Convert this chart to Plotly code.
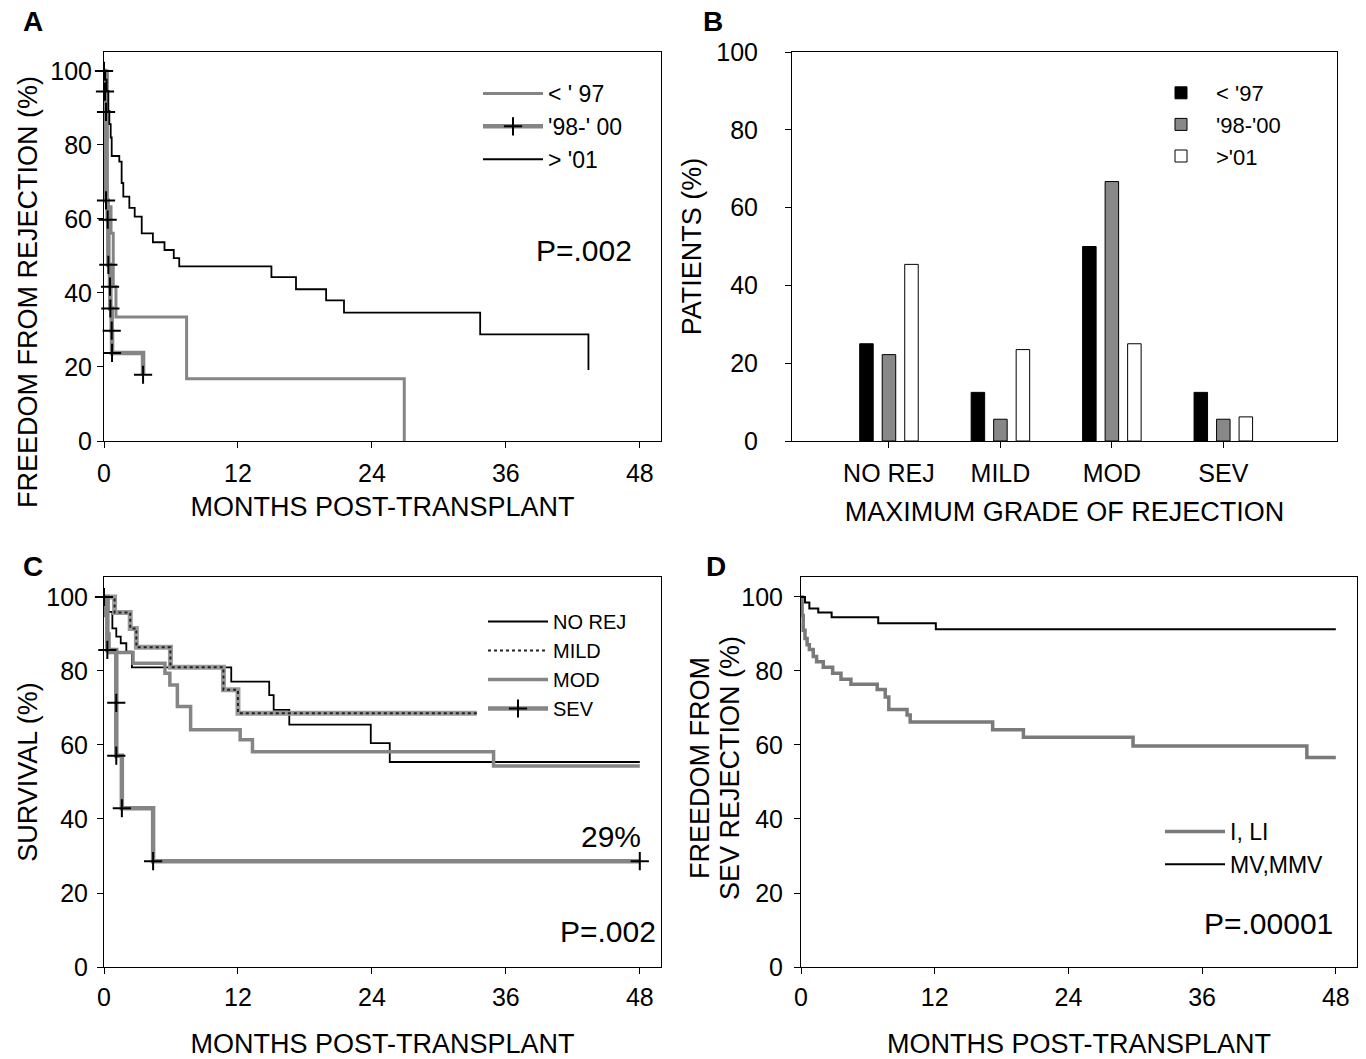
import plotly.graph_objects as go

W, H = 1366, 1059
FONT = "Arial, Liberation Sans, sans-serif"
GRAY = "#858585"

# ---------------- Panel A: freedom from rejection by era ----------------
a_lt97_months = [0, 0.3, 0.63, 0.83, 1.07, 7.4, 26.9]
a_lt97_pct = [100, 63.3, 56.1, 41.7, 33.5, 16.8, 0]

a_9800_months = [0, 0.09, 0.18, 0.18, 0.33, 0.39, 0.54, 0.57, 0.69, 0.72, 3.5]
a_9800_pct = [100, 94.4, 88.9, 65.0, 59.8, 47.6, 41.7, 35.8, 29.8, 23.8, 17.9]

a_gt01_months = [0, 0.1, 0.24, 0.39, 0.48, 0.6, 0.69, 1.37, 1.58, 1.73, 2.27, 2.75,
                 3.38, 4.38, 5.42, 6.25, 6.74, 15.0, 17.2, 19.9, 21.5, 33.7, 43.4]
a_gt01_pct = [100, 97.6, 94.6, 89.2, 85.6, 82.0, 77.0, 75.5, 69.7, 66.0, 63.0, 60.6,
              56.1, 53.7, 51.6, 49.4, 47.2, 44.3, 41.0, 38.0, 34.7, 28.8, 19.2]

# ---------------- Panel B: maximum grade of rejection ----------------
b_categories = ["NO REJ", "MILD", "MOD", "SEV"]
b_lt97 = [25.0, 12.5, 50.0, 12.5]
b_9800 = [22.2, 5.6, 66.7, 5.6]
b_gt01 = [45.4, 23.5, 25.0, 6.2]

# ---------------- Panel C: survival by max grade ----------------
c_norej_months = [0, 0.4, 0.75, 1.1, 1.5, 2.0, 2.5, 11.4, 14.8, 15.2, 16.6, 23.9, 25.6, 48]
c_norej_pct = [100, 96.0, 91.5, 89.3, 87.5, 85.2, 81.0, 77.1, 73.5, 69.5, 65.5, 60.5, 55.4, 55.4]

c_mild_months = [0, 0.95, 2.35, 2.9, 5.95, 10.7, 12.0, 33.4]
c_mild_pct = [100, 95.8, 91.5, 86.4, 81.0, 74.9, 68.6, 68.6]

c_mod_months = [0, 0.15, 0.3, 0.45, 2.6, 5.46, 5.9, 6.57, 7.76, 12.2, 13.3, 34.9, 48]
c_mod_pct = [100, 95.0, 90.0, 85.0, 82.1, 79.4, 76.2, 70.4, 64.1, 61.4, 58.2, 54.3, 54.3]

c_sev_months = [0, 0.3, 1.1, 1.1, 1.6, 4.4, 48]
c_sev_pct = [100, 85.7, 71.4, 57.1, 42.9, 28.6, 28.6]

# ---------------- Panel D: freedom from severe rejection ----------------
d_ili_months = [0, 0.1, 0.2, 0.36, 0.55, 0.75, 1.1, 1.4, 2.0, 2.84, 3.59, 4.48, 6.84,
                7.56, 7.88, 9.52, 9.8, 17.2, 19.96, 29.8, 45.4, 48]
d_ili_pct = [100, 95.0, 91.0, 88.8, 87.1, 85.8, 83.9, 82.5, 81.0, 79.4, 77.8, 76.4, 75.0,
             73.0, 69.6, 68.1, 66.2, 64.1, 62.1, 59.7, 56.6, 56.6]

d_mv_months = [0, 0.36, 0.75, 1.55, 2.75, 6.93, 12.1, 48]
d_mv_pct = [100, 98.5, 96.9, 95.8, 94.5, 92.9, 91.3, 91.3]

month_ticks = [0, 12, 24, 36, 48]
pct_ticks = [0, 20, 40, 60, 80, 100]

fig = go.Figure()

cross = dict(symbol="cross-thin", size=13, color="black", line=dict(color="black", width=2))

# Panel A traces
fig.add_trace(go.Scatter(x=a_lt97_months, y=a_lt97_pct, mode="lines", line_shape="hv",
                         line=dict(color=GRAY, width=3), name="< ' 97",
                         xaxis="x", yaxis="y", legend="legend"))
fig.add_trace(go.Scatter(x=a_9800_months, y=a_9800_pct, mode="lines+markers", line_shape="hv",
                         line=dict(color=GRAY, width=4.5), marker=cross, cliponaxis=False,
                         name="'98-' 00", xaxis="x", yaxis="y", legend="legend"))
fig.add_trace(go.Scatter(x=a_gt01_months, y=a_gt01_pct, mode="lines", line_shape="hv",
                         line=dict(color="black", width=1.8), name="> '01",
                         xaxis="x", yaxis="y", legend="legend"))

# Panel B traces
fig.add_trace(go.Bar(x=b_categories, y=b_lt97, name="< '97", marker=dict(color="black", line=dict(color="black", width=1)),
                     xaxis="x2", yaxis="y2", legend="legend2"))
fig.add_trace(go.Bar(x=b_categories, y=b_9800, name="'98-'00", marker=dict(color="#888888", line=dict(color="black", width=1)),
                     xaxis="x2", yaxis="y2", legend="legend2"))
fig.add_trace(go.Bar(x=b_categories, y=b_gt01, name=">'01", marker=dict(color="white", line=dict(color="black", width=1)),
                     xaxis="x2", yaxis="y2", legend="legend2"))

# Panel C traces
fig.add_trace(go.Scatter(x=c_norej_months, y=c_norej_pct, mode="lines", line_shape="hv",
                         line=dict(color="black", width=1.8), name="NO REJ",
                         xaxis="x3", yaxis="y3", legend="legend3"))
fig.add_trace(go.Scatter(x=c_mild_months, y=c_mild_pct, mode="lines", line_shape="hv",
                         line=dict(color="#9a9a9a", width=5), name="MILD", showlegend=False,
                         xaxis="x3", yaxis="y3", legend="legend3"))
fig.add_trace(go.Scatter(x=c_mild_months, y=c_mild_pct, mode="lines", line_shape="hv",
                         line=dict(color="#222222", width=2, dash="dot"), name="MILD",
                         xaxis="x3", yaxis="y3", legend="legend3"))
fig.add_trace(go.Scatter(x=c_mod_months, y=c_mod_pct, mode="lines", line_shape="hv",
                         line=dict(color=GRAY, width=3.5), name="MOD",
                         xaxis="x3", yaxis="y3", legend="legend3"))
fig.add_trace(go.Scatter(x=c_sev_months, y=c_sev_pct, mode="lines+markers", line_shape="hv",
                         line=dict(color=GRAY, width=4.5), marker=cross, cliponaxis=False,
                         name="SEV", xaxis="x3", yaxis="y3", legend="legend3"))

# Panel D traces
fig.add_trace(go.Scatter(x=d_ili_months, y=d_ili_pct, mode="lines", line_shape="hv",
                         line=dict(color="#7a7a7a", width=3.5), name="I, LI",
                         xaxis="x4", yaxis="y4", legend="legend4"))
fig.add_trace(go.Scatter(x=d_mv_months, y=d_mv_pct, mode="lines", line_shape="hv",
                         line=dict(color="black", width=2), name="MV,MMV",
                         xaxis="x4", yaxis="y4", legend="legend4"))

axis_common = dict(showline=True, linecolor="black", linewidth=1, mirror=True,
                   ticks="outside", ticklen=6, tickcolor="black", showgrid=False,
                   zeroline=False, automargin=False,
                   tickfont=dict(size=25, color="black", family=FONT))
title_font = dict(size=27, color="black", family=FONT)

yA = [1 - 441 / H, 1 - 52 / H]
yC = [1 - 967 / H, 1 - 577 / H]

legend_common = dict(xanchor="left", yanchor="top", bgcolor="rgba(0,0,0,0)",
                     itemwidth=60, tracegroupgap=0)

fig.update_layout(
    width=W, height=H, margin=dict(l=0, r=0, t=0, b=0, autoexpand=False),
    paper_bgcolor="white", plot_bgcolor="white",
    font=dict(family=FONT, color="black"),
    barmode="group", bargap=0.394, bargroupgap=0.4,
    xaxis=dict(axis_common, domain=[104 / W, 661 / W], anchor="y", range=[0, 49.9],
               tickvals=month_ticks, ticklabelstandoff=4,
               title=dict(text="MONTHS POST-TRANSPLANT", font=title_font, standoff=11)),
    yaxis=dict(axis_common, domain=yA, anchor="x", range=[0, 105.1], tickvals=pct_ticks),
    xaxis2=dict(axis_common, domain=[792 / W, 1337 / W], anchor="y2", type="category",
                range=[-0.87, 4.02], ticklabelstandoff=4,
                title=dict(text="MAXIMUM GRADE OF REJECTION", font=title_font, standoff=16)),
    yaxis2=dict(axis_common, domain=yA, anchor="x2", range=[0, 100], tickvals=pct_ticks,
                ticklabelstandoff=22,
                title=dict(text="PATIENTS (%)", font=title_font, standoff=6)),
    xaxis3=dict(axis_common, domain=[104 / W, 661 / W], anchor="y3", range=[0, 49.9],
                tickvals=month_ticks, ticklabelstandoff=2,
                title=dict(text="MONTHS POST-TRANSPLANT", font=title_font, standoff=33)),
    yaxis3=dict(axis_common, domain=yC, anchor="x3", range=[0, 105.4], tickvals=pct_ticks,
                ticklabelstandoff=4,
                title=dict(text="SURVIVAL (%)", font=title_font, standoff=0)),
    xaxis4=dict(axis_common, domain=[801 / W, 1357 / W], anchor="y4", range=[0, 49.9],
                tickvals=month_ticks, ticklabelstandoff=2,
                title=dict(text="MONTHS POST-TRANSPLANT", font=title_font, standoff=33)),
    yaxis4=dict(axis_common, domain=yC, anchor="x4", range=[0, 105.4], tickvals=pct_ticks,
                ticklabelstandoff=6),
    legend=dict(legend_common, x=478 / W, y=1 - 72 / H,
                font=dict(size=23, family=FONT, color="black")),
    legend2=dict(legend_common, x=1146 / W, y=1 - 72 / H,
                 font=dict(size=22, family=FONT, color="black")),
    legend3=dict(legend_common, x=483 / W, y=1 - 602 / H,
                 font=dict(size=20, family=FONT, color="black")),
    legend4=dict(legend_common, x=1160 / W, y=1 - 810 / H,
                 font=dict(size=23, family=FONT, color="black")),
)

ann_font = dict(size=30, family=FONT, color="black")
letter_font = dict(size=28, family=FONT, color="black", weight="bold")
annotations = [
    dict(text="FREEDOM FROM REJECTION (%)", x=28 / W, y=1 - 292 / H, textangle=-90, font=title_font),
    dict(text="FREEDOM FROM", x=700 / W, y=1 - 768 / H, textangle=-90, font=title_font),
    dict(text="SEV REJECTION (%)", x=730 / W, y=1 - 768 / H, textangle=-90, font=title_font),
    dict(text="P=.002", x=584 / W, y=1 - 250 / H, font=ann_font),
    dict(text="29%", x=611 / W, y=1 - 836 / H, font=ann_font),
    dict(text="P=.002", x=608 / W, y=1 - 931 / H, font=ann_font),
    dict(text="P=.00001", x=1268 / W, y=1 - 923 / H, font=ann_font),
    dict(text="<b>A</b>", x=33 / W, y=1 - 22 / H, font=letter_font),
    dict(text="<b>B</b>", x=713 / W, y=1 - 22 / H, font=letter_font),
    dict(text="<b>C</b>", x=33 / W, y=1 - 566 / H, font=letter_font),
    dict(text="<b>D</b>", x=716 / W, y=1 - 566 / H, font=letter_font),
]
for a in annotations:
    a.update(xref="paper", yref="paper", showarrow=False, xanchor="center", yanchor="middle")
fig.update_layout(annotations=annotations)

fig.write_html("out.html", config={"displayModeBar": False},
               post_script="document.body.style.margin='0';")
